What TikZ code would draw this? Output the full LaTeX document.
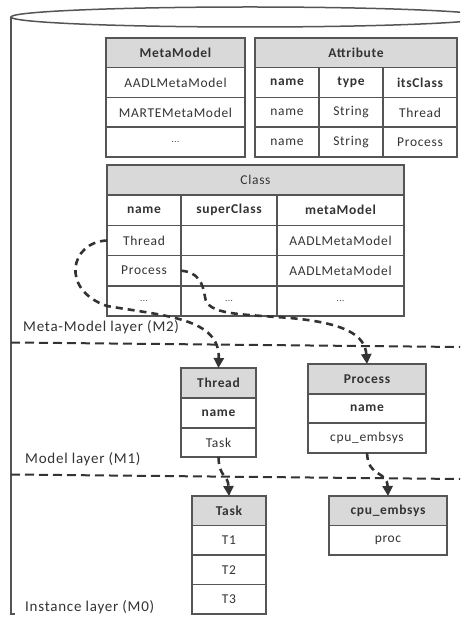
\documentclass[tikz,border=0pt]{standalone}
\usepackage{fontspec}
\setmainfont{Carlito}[LetterSpace=5]
\usetikzlibrary{arrows.meta}
\definecolor{hdr}{HTML}{D9D9D9}
\definecolor{bord}{HTML}{555555}
\definecolor{txt}{HTML}{333333}
\definecolor{dsh}{HTML}{333333}
\newcommand\cellbox[7]{%
  \node[#1, minimum width={(#4-#3)*1pt}, minimum height={(#6-#5)*1pt}] (#2) at ({(#3+#4)/2},{(#5+#6)/2}) {#7};}
\begin{document}
\begin{tikzpicture}[x=1pt,y=-1pt,
  cell/.style={draw=bord, line width=1.5pt, rectangle, inner sep=0pt, outer sep=0pt, text=txt, font=\fontsize{13.5}{16}\selectfont},
  hcell/.style={cell, fill=hdr},
  bf/.style={font=\fontsize{13.5}{16}\selectfont\bfseries},
  layerlabel/.style={anchor=west, text=txt, font=\fontsize{15}{18}\selectfont, inner sep=0pt},
  sepline/.style={draw=dsh, line width=2pt, dash pattern=on 9pt off 5pt},
  link/.style={draw=dsh, line width=2.6pt, dash pattern=on 7pt off 5pt, -{Triangle[length=10pt,width=10pt]}}]
\useasboundingbox (0,0) rectangle (460,617);
% cylinder
\begin{scope}
\clip (0,0) rectangle (460,617);
\draw[bord, line width=1.5pt] (250,17) ellipse [x radius=239, y radius=10];
\draw[bord, line width=1.5pt] (11,17) -- (11,614) -- (15,614);
\end{scope}
% layer separators
\draw[sepline] (11,342.5) -- (460,347);
\draw[sepline] (11,474.5) -- (460,479);
% labels
\node[layerlabel] (lm2) at (23,327) {Meta-Model layer (M2)};
\node[layerlabel] (lm1) at (25,459) {Model layer (M1)};
\node[layerlabel] (lm0) at (25,607) {Instance layer (M0)};
% MetaModel table
\cellbox{hcell,bf}{mmH}{106}{245}{38}{67.75}{MetaModel}
\cellbox{cell}{mm1}{106}{245}{67.75}{97.5}{AADLMetaModel}
\cellbox{cell}{mm2}{106}{245}{97.5}{127.25}{MARTEMetaModel}
\cellbox{cell}{mm3}{106}{245}{127.25}{157}{\fontsize{9}{10}\selectfont ...}
% Attribute table
\cellbox{hcell,bf}{atH}{255}{457}{38}{67.75}{Attribute}
\cellbox{cell,bf}{at11}{255}{319}{67.75}{97.5}{name}
\cellbox{cell,bf}{at12}{319}{383}{67.75}{97.5}{type}
\cellbox{cell,bf}{at13}{383}{457}{67.75}{97.5}{itsClass}
\cellbox{cell}{at21}{255}{319}{97.5}{127.25}{name}
\cellbox{cell}{at22}{319}{383}{97.5}{127.25}{String}
\cellbox{cell}{at23}{383}{457}{97.5}{127.25}{Thread}
\cellbox{cell}{at31}{255}{319}{127.25}{157}{name}
\cellbox{cell}{at32}{319}{383}{127.25}{157}{String}
\cellbox{cell}{at33}{383}{457}{127.25}{157}{Process}
% Class table
\cellbox{hcell}{clH}{107}{404}{165}{195.2}{Class}
\cellbox{cell,bf}{cl11}{107}{181}{195.2}{225.4}{name}
\cellbox{cell,bf}{cl12}{181}{277}{195.2}{225.4}{superClass}
\cellbox{cell,bf}{cl13}{277}{404}{195.2}{225.4}{metaModel}
\cellbox{cell}{cl21}{107}{181}{225.4}{255.6}{Thread}
\cellbox{cell}{cl22}{181}{277}{225.4}{255.6}{}
\cellbox{cell}{cl23}{277}{404}{225.4}{255.6}{AADLMetaModel}
\cellbox{cell}{cl31}{107}{181}{255.6}{285.8}{Process}
\cellbox{cell}{cl32}{181}{277}{255.6}{285.8}{}
\cellbox{cell}{cl33}{277}{404}{255.6}{285.8}{AADLMetaModel}
\cellbox{cell}{cl41}{107}{181}{285.8}{316}{\fontsize{9}{10}\selectfont ...}
\cellbox{cell}{cl42}{181}{277}{285.8}{316}{\fontsize{9}{10}\selectfont ...}
\cellbox{cell}{cl43}{277}{404}{285.8}{316}{\fontsize{9}{10}\selectfont ...}
% Thread table (M1)
\cellbox{hcell,bf}{thH}{181}{256}{368}{398}{Thread}
\cellbox{cell,bf}{th1}{181}{256}{398}{428}{name}
\cellbox{cell}{th2}{181}{256}{428}{457}{Task}
% Process table (M1)
\cellbox{hcell,bf}{prH}{308}{426}{364}{394}{Process}
\cellbox{cell,bf}{pr1}{308}{426}{394}{423}{name}
\cellbox{cell}{pr2}{308}{426}{423}{453}{cpu\_embsys}
% Task table (M0)
\cellbox{hcell,bf}{tkH}{192}{266}{496}{525.5}{Task}
\cellbox{cell}{tk1}{192}{266}{525.5}{555}{T1}
\cellbox{cell}{tk2}{192}{266}{555}{584.5}{T2}
\cellbox{cell}{tk3}{192}{266}{584.5}{614}{T3}
% cpu_embsys table (M0)
\cellbox{hcell,bf}{cpH}{329}{447}{496}{525.5}{cpu\_embsys}
\cellbox{cell}{cp1}{329}{447}{525.5}{555}{proc}
% links
\draw[link] (cl21.west) .. controls (70,242) and (60,290) .. (107,306)
  .. controls (165,316) and (220,318) .. (thH.north);
\draw[link] (cl31.east) .. controls (198,272) and (203,283) .. (205,297)
  .. controls (207,315) and (240,314) .. (290,318)
  .. controls (345,323) and (365,335) .. (prH.north);
\draw[link] (th2.south) .. controls (219,478) and (228,474) .. (tkH.north);
\draw[link] (pr2.south) .. controls (368,478) and (387,470) .. (cpH.north);
\end{tikzpicture}
\end{document}
